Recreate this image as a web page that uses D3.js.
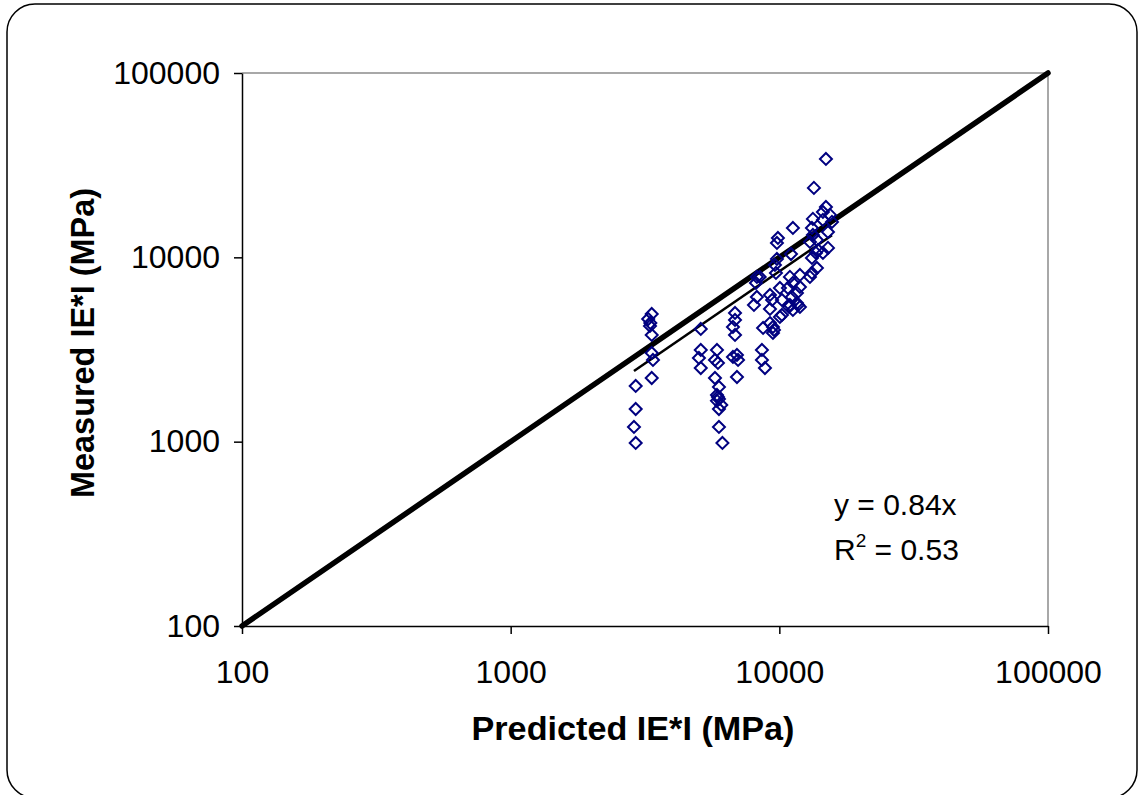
<!DOCTYPE html>
<html>
<head>
<meta charset="utf-8">
<script src="https://cdn.jsdelivr.net/npm/d3@7"></script>
<style>
  body { margin: 0; background: #fff; }
  svg text { font-family: Arial, "Liberation Sans", sans-serif; }
</style>
</head>
<body>
<div id="chart"></div>
<script>
// Predicted vs measured IE*I values (MPa)
const predicted = [
  2920, 2877, 2920, 2920, 3350, 3250, 3310, 3300, 3350, 3350, 3386, 3350,
  5100, 5100, 5020, 5100,
  5860, 5760, 5910, 5760, 5960, 5860, 5910, 5960, 5860, 6080, 5960, 5960, 6140,
  6840, 6840, 6720, 6840, 6955, 6720, 7020, 6955,
  8250, 8184, 8250, 8045, 8614, 8614, 8840, 8700, 8450,
  9797, 9797, 9630, 9714, 10050, 9228, 9400, 9228, 10050, 9468, 9550, 9468, 9228, 9880, 10226, 10226,
  11050, 10950, 11234, 10766, 11630, 10860, 11234, 11730, 11930, 11930, 11234, 10950, 11140, 11930, 11630,
  14910, 13450, 14910, 14530, 15430, 13335, 14530, 15700, 13225, 15170, 13335, 13800, 13000,
  15170, 13685, 13225, 13920, 13800, 13225, 13000, 14530
];
const measured = [
  984, 1202, 1504, 2006, 4930, 4630, 4405, 4245, 3793, 3030, 2776, 2216,
  4088, 3145, 2846, 2511,
  3145, 2776, 2673, 2216, 1981, 1792, 1748, 1705, 1665, 1582, 1504, 1202, 984,
  4993, 4575, 4192, 3793, 2954, 2881, 2776, 2244,
  7830, 7262, 6098, 5516, 3145, 2776, 2511, 4140, 7830,
  11970, 9800, 9094, 8230, 6823, 6252, 5874, 5248, 4749, 4192, 4040, 3888, 4400, 12740, 5874, 4869,
  10430, 7830, 7262, 6823, 6412, 5381, 5183, 5516, 8025, 6908, 14440, 5516, 6098, 5381, 5656,
  34190, 23800, 18770, 17630, 16990, 16160, 15960, 15570, 14440, 13730, 13230, 12430, 12120,
  11250, 10570, 9925, 10970, 8760, 8230, 7830, 10570
];
const tickValues = [100, 1000, 10000, 100000];
const slope = 0.84;
const equationText = "y = 0.84x";
const r2Text = " = 0.53";

const W = 1138, H = 795;
const margin = { top: 73, right: 90, bottom: 169, left: 242 };

const svg = d3.select("#chart").append("svg")
  .attr("width", W)
  .attr("height", H);

// outer rounded frame
svg.append("rect")
  .attr("x", 7).attr("y", 4)
  .attr("width", 1130).attr("height", 794)
  .attr("rx", 28).attr("ry", 28)
  .attr("fill", "none")
  .attr("stroke", "#000")
  .attr("stroke-width", 1.5);

const x = d3.scaleLog().domain([100, 100000]).range([margin.left, W - margin.right]);
const y = d3.scaleLog().domain([100, 100000]).range([H - margin.bottom, margin.top]);

// gray top / right border of plot area
svg.append("path")
  .attr("d", `M${x(100)},${y(100000)}H${x(100000)}V${y(100)}`)
  .attr("fill", "none")
  .attr("stroke", "#8c8c8c")
  .attr("stroke-width", 1.5);

// axes
const xAxis = svg.append("g")
  .attr("transform", `translate(0,${y(100)})`)
  .call(d3.axisBottom(x).tickValues(tickValues).tickFormat(d3.format("d"))
    .tickSize(8).tickSizeOuter(0).tickPadding(26));
const yAxis = svg.append("g")
  .attr("transform", `translate(${x(100)},0)`)
  .call(d3.axisLeft(y).tickValues(tickValues).tickFormat(d3.format("d"))
    .tickSize(8).tickSizeOuter(0).tickPadding(14));

[xAxis, yAxis].forEach(a => {
  a.select(".domain").attr("stroke", "#000").attr("stroke-width", 1.5);
  a.selectAll(".tick line").attr("stroke", "#000").attr("stroke-width", 1.5);
  a.selectAll(".tick text")
    .attr("font-family", "Arial, 'Liberation Sans', sans-serif")
    .attr("font-size", 32)
    .attr("fill", "#000");
});

// 1:1 line
svg.append("line")
  .attr("x1", x(100)).attr("y1", y(100))
  .attr("x2", x(100000)).attr("y2", y(100000))
  .attr("stroke", "#000")
  .attr("stroke-width", 5.5)
  .attr("stroke-linecap", "round");

// trendline y = 0.84x across the data range
const xr = d3.extent(predicted);
svg.append("path")
  .datum(xr)
  .attr("d", d3.line().x(d => x(d)).y(d => y(d * slope)))
  .attr("fill", "none")
  .attr("stroke", "#000")
  .attr("stroke-width", 2.5);

// markers (hollow diamonds)
const pts = predicted.map((p, i) => ({ p, m: measured[i] }));
svg.selectAll(".pt")
  .data(pts)
  .enter()
  .append("path")
  .attr("class", "pt")
  .attr("transform", d => `translate(${x(d.p)},${y(d.m)})`)
  .attr("d", "M0,-6L6,0L0,6L-6,0Z")
  .attr("fill", "none")
  .attr("stroke", "#000080")
  .attr("stroke-width", 2);

// axis titles
svg.append("text")
  .attr("x", 633).attr("y", 740)
  .attr("text-anchor", "middle")
  .attr("font-size", 33)
  .attr("font-weight", "bold")
  .text("Predicted IE*I (MPa)")
  .attr("textLength", 323).attr("lengthAdjust", "spacingAndGlyphs");

svg.append("text")
  .attr("transform", "translate(94,343) rotate(-90)")
  .attr("text-anchor", "middle")
  .attr("font-size", 33)
  .attr("font-weight", "bold")
  .text("Measured IE*I (MPa)")
  .attr("textLength", 310).attr("lengthAdjust", "spacingAndGlyphs");

// equation labels
svg.append("text")
  .attr("x", 834).attr("y", 515)
  .attr("font-size", 30)
  .text(equationText);

const r2 = svg.append("text")
  .attr("x", 834).attr("y", 560)
  .attr("font-size", 30);
r2.append("tspan").text("R");
r2.append("tspan").attr("dy", -13).attr("font-size", 19).text("2");
r2.append("tspan").attr("dy", 13).text(r2Text);
</script>
</body>
</html>
